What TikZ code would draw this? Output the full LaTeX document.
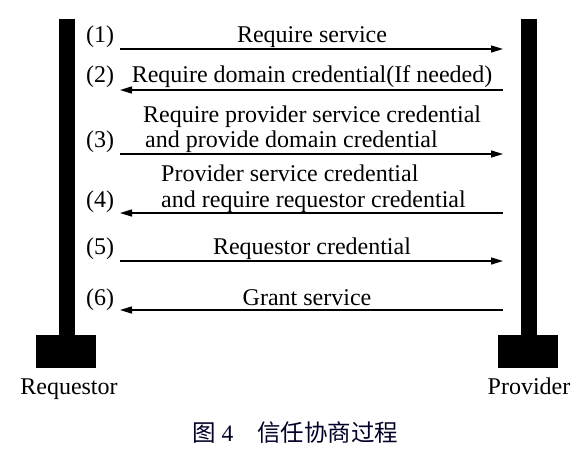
\documentclass[tikz,border=0pt]{standalone}
\usepackage{fontspec}
\setmainfont{Liberation Serif}
\newfontfamily\cjk{Noto Sans CJK SC}
\usetikzlibrary{arrows.meta}
\begin{document}
\begin{tikzpicture}[x=1pt,y=-1pt,
  lbl/.style={font=\fontsize{24}{26}\selectfont, inner sep=0pt, anchor=base},
  msg/.style={line width=1.5pt, -{Triangle[length=12pt,width=7pt]}},
  bar/.style={fill=black, draw=none}]
\useasboundingbox (0,0) rectangle (578,451);
% lifelines
\fill[bar] (59,19) rectangle (75,336);
\fill[bar] (36,335) rectangle (96,368);
\fill[bar] (521,19) rectangle (537,336);
\fill[bar] (498,335) rectangle (558,368);
\coordinate (L1) at (120,49); \coordinate (R1) at (503,49);
\coordinate (L2) at (120,90); \coordinate (R2) at (503,90);
\coordinate (L3) at (120,154); \coordinate (R3) at (503,154);
\coordinate (L4) at (120,213); \coordinate (R4) at (503,213);
\coordinate (L5) at (120,261); \coordinate (R5) at (503,261);
\coordinate (L6) at (120,310); \coordinate (R6) at (503,310);
\draw[msg] (L1) -- (R1);
\draw[msg] (R2) -- (L2);
\draw[msg] (L3) -- (R3);
\draw[msg] (R4) -- (L4);
\draw[msg] (L5) -- (R5);
\draw[msg] (R6) -- (L6);
% step numbers
\node[lbl] (n1) at (100,42) {(1)};
\node[lbl] (n2) at (100,82) {(2)};
\node[lbl] (n3) at (100,147) {(3)};
\node[lbl] (n4) at (100,207) {(4)};
\node[lbl] (n5) at (100,254) {(5)};
\node[lbl] (n6) at (100,305) {(6)};
% messages
\node[lbl] (t1) at (312,42) {Require service};
\node[lbl] (t2) at (312,82) {Require domain credential(If needed)};
\node[lbl,anchor=base west] (t3a) at (143,122) {Require provider service credential};
\node[lbl,anchor=base west] (t3b) at (145,147) {and provide domain credential};
\node[lbl,anchor=base west] (t4a) at (161,181) {Provider service credential};
\node[lbl,anchor=base west] (t4b) at (161,207) {and require requestor credential};
\node[lbl] (t5) at (312,254) {Requestor credential};
\node[lbl] (t6) at (307,305) {Grant service};
% actors
\node[lbl] (req) at (69,394) {Requestor};
\node[lbl] (prov) at (529,394) {Provider};
% caption
\node[inner sep=0pt, anchor=base west, font=\fontsize{23.5}{26}\selectfont, text=black!85!blue] (cap) at (192,441) {{\cjk 图}\hspace{6pt}4\hspace{24pt}{\cjk 信任协商过程}};
\end{tikzpicture}
\end{document}
